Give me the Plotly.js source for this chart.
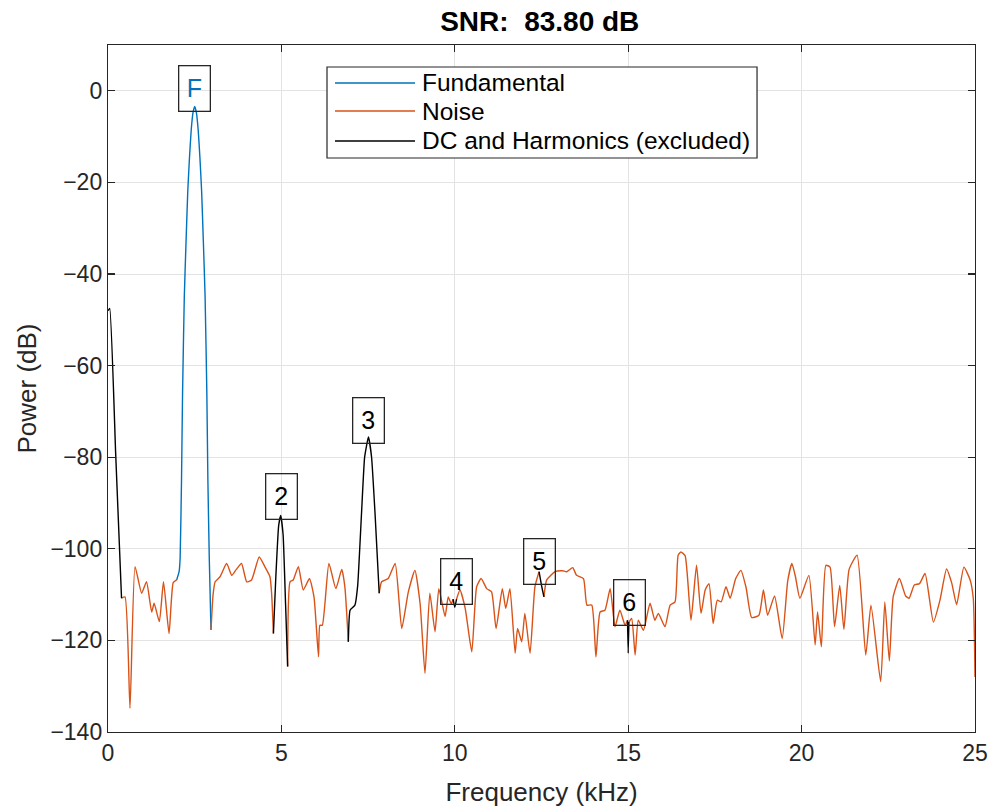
<!DOCTYPE html>
<html>
<head>
<meta charset="utf-8">
<script src="https://cdn.plot.ly/plotly-3.0.1.min.js"></script>
<style>html,body{margin:0;padding:0;background:#fff;}#chart{width:994px;height:808px;}</style>
</head>
<body>
<div id="chart"></div>
<script>
// ---- Data (frequency in kHz, power in dB) ----
const fundFreq = [1.98, 2.05, 2.08, 2.12, 2.15, 2.2, 2.25, 2.3, 2.35, 2.4, 2.45, 2.5, 2.55, 2.6, 2.65, 2.7, 2.75, 2.8, 2.85, 2.88, 2.92, 2.97];
const fundPow  = [-106.8, -105, -102, -85, -66, -45, -33, -22, -14.5, -8.5, -4.8, -3.4, -4.8, -8.5, -14.5, -22, -33, -45, -66, -85, -102, -117.7];

const noiseFreq = [
  0.39, 0.49, 0.634, 0.78, 0.97, 1.11, 1.26, 1.33, 1.48, 1.6, 1.76, 1.88, 1.98, null,
  2.97, 3.03, 3.09, 3.23, 3.42, 3.57, 3.7, 3.85, 4.0, 4.14, 4.36, 4.53, 4.67, 4.72, 4.77, null,
  5.18, 5.25, 5.34, 5.49, 5.63, 5.81, 5.94, 6.07, 6.11, 6.18, 6.37, 6.57, 6.74, 6.83, 6.93, null,
  7.82, 7.89, 8.08, 8.28, 8.47, 8.66, 8.85, 9.0, 9.14, 9.28, 9.43, 9.54, 9.72, 9.81, 9.9, 9.95, null,
  10.05, 10.15, 10.3, 10.49, 10.63, 10.76, 10.92, 11.06, 11.19, 11.37, 11.47, 11.59, 11.74, 11.81, 11.93, 12.02, 12.17, 12.31, 12.43, null,
  12.57, 12.65, 12.89, 13.1, 13.23, 13.4, 13.51, 13.71, 13.81, 13.95, 14.07, 14.19, 14.33, 14.48, 14.62, 14.76, 14.91, 14.98, null,
  15.02, 15.1, 15.2, 15.29, 15.44, 15.63, 15.77, 15.87, 16.06, 16.21, 16.35, 16.44, 16.52, 16.64, 16.81, 16.97, 17.1, 17.22, 17.33, 17.45,
  17.57, 17.68, 17.82, 17.94, 18.1, 18.25, 18.4, 18.56, 18.77, 18.9, 19.02, 19.22, 19.44, 19.6, 19.72, 19.82, 19.95, 20.21, 20.39, 20.46,
  20.57, 20.7, 20.82, 20.95, 21.1, 21.22, 21.37, 21.6, 21.85, 22.0, 22.28, 22.4, 22.53, 22.64, 22.82, 23.0, 23.1, 23.25, 23.4, 23.56,
  23.8, 23.99, 24.18, 24.33, 24.47, 24.68, 24.86, 24.95, 25.0
];
const noisePow = [
  -110.8, -110.5, -134.8, -103.9, -109.7, -107.2, -113.8, -111.9, -115.9, -107.2, -118.5, -107.4, -106.8, null,
  -117.7, -110, -107.2, -106.1, -103.2, -105.8, -104.5, -103.2, -107.2, -106.8, -101.8, -104, -106.1, -110, -118.5, null,
  -125.7, -107.2, -106.8, -103.9, -109, -106.5, -110.5, -123.6, -116.7, -116.7, -103.2, -108.7, -104.5, -108.3, -120.3, null,
  -109.7, -107.2, -106.5, -103.2, -117.4, -109.4, -104.7, -112, -127.2, -109.7, -118.1, -108.7, -114.8, -110.5, -112, -111, null,
  -111, -109, -113, -122.5, -108.3, -106.5, -108.7, -109.4, -117.4, -108.7, -113, -108.7, -122.8, -117.4, -120.3, -114.1, -122.8, -108.3, -105, null,
  -110.5, -106.8, -105, -104.8, -105, -104.1, -105.8, -106.5, -112.3, -112.3, -123.6, -113.8, -113.4, -108.7, -117, -113.4, -116.7, -115.6, null,
  -116, -115.2, -123.2, -115.6, -117.8, -111.9, -115.6, -114.1, -117, -112.3, -111.6, -101.4, -100.7, -101.5, -115.6, -103.6, -114.1, -109, -107.6, -116.3,
  -111.2, -111.6, -108.3, -110.8, -106.5, -104.7, -108.5, -115, -114.5, -109, -114.5, -110.3, -119.6, -107, -103.2, -106, -110.8, -105.8, -121, -113.8,
  -121.4, -103.6, -104, -117, -108, -117.6, -104.5, -101.4, -123.2, -112.3, -129, -111.6, -124.5, -110.5, -106.5, -110.3, -110.8, -107.9, -107.6, -105.4,
  -116, -111.2, -104.4, -107.5, -112.2, -104, -106.8, -110.8, -128
];

const harmFreq = [
  0, 0.05, 0.22, 0.39, null,
  4.77, 4.84, 4.92, 4.98, 5.05, 5.12, 5.18, null,
  6.93, 6.98, 7.12, 7.2, 7.31, 7.4, 7.51, 7.6, 7.7, 7.82, null,
  9.95, 10.0, 10.05, null,
  12.43, 12.5, 12.57, null,
  14.98, 15.0, 15.02
];
const harmPow = [
  -48, -47.5, -79, -110.8, null,
  -118.5, -106, -95, -92.7, -97, -112, -125.7, null,
  -120.3, -113.4, -112.3, -108, -92.3, -80, -75.6, -80, -92.3, -109.7, null,
  -111, -112.8, -111, null,
  -105, -108, -110.5, null,
  -115.6, -122.8, -116
];

const labelText = ['F', '2', '3', '4', '5', '6'];
const labelFreq = [2.5, 5.0, 7.5, 10.05, 12.45, 15.05];
const labelPow  = [-4.6, -93.8, -77.2, -112.3, -107.9, -116.9];

const seriesNames = ['Fundamental', 'Noise', 'DC and Harmonics (excluded)'];

const xTicks = [0, 5, 10, 15, 20, 25];
const yTicks = [-140, -120, -100, -80, -60, -40, -20, 0];

// ---- Styling ----
const FONT = 'Liberation Sans, Arial, Helvetica, sans-serif';
const TXT = '#262626';
const COLORS = ['#0072BD', '#D95319', '#000000'];

const traces = [
  {x: fundFreq, y: fundPow, type: 'scatter', mode: 'lines', name: seriesNames[0],
   line: {color: COLORS[0], width: 1.4, shape: 'spline', smoothing: 0.4}},
  {x: noiseFreq, y: noisePow, type: 'scatter', mode: 'lines', name: seriesNames[1],
   line: {color: COLORS[1], width: 1.4, shape: 'spline', smoothing: 0.5}, connectgaps: false},
  {x: harmFreq, y: harmPow, type: 'scatter', mode: 'lines', name: seriesNames[2],
   line: {color: COLORS[2], width: 1.4, shape: 'spline', smoothing: 0.4}, connectgaps: false}
];

const annotations = labelText.map((t, i) => ({
  x: labelFreq[i], y: labelPow[i], xref: 'x', yref: 'y',
  text: t, showarrow: false, xanchor: 'center', yanchor: 'bottom',
  font: {family: FONT, size: 25, color: t === 'F' ? COLORS[0] : '#000000'},
  bordercolor: TXT, borderwidth: 1.3, borderpad: 1,
  width: 28, height: 42, bgcolor: 'rgba(0,0,0,0)'
}));

// Legend drawn as a boxed key (MATLAB style) in paper coordinates
const shapes = [];
const legBox = {x0: 0.2526, x1: 0.7486, y0: 0.8355, y1: 0.9680};
const legRows = [0.9447, 0.9039, 0.8603];
shapes.push({type: 'rect', xref: 'paper', yref: 'paper', x0: legBox.x0, x1: legBox.x1, y0: legBox.y0, y1: legBox.y1,
  line: {color: TXT, width: 1.2}, fillcolor: '#ffffff', layer: 'above'});
seriesNames.forEach((n, i) => {
  shapes.push({type: 'line', xref: 'paper', yref: 'paper', x0: 0.2618, x1: 0.3541, y0: legRows[i], y1: legRows[i],
    line: {color: COLORS[i], width: 1.4}, layer: 'above'});
  annotations.push({xref: 'paper', yref: 'paper', x: 0.3595, y: legRows[i], xanchor: 'left', yanchor: 'middle',
    text: n, showarrow: false, font: {family: FONT, size: 24.5, color: '#000000'}});
});

const axisCommon = {
  showline: true, linecolor: TXT, linewidth: 1.2, mirror: 'allticks',
  ticks: 'inside', ticklen: 7, tickwidth: 1.2, tickcolor: TXT,
  showgrid: true, gridcolor: '#e3e3e3', gridwidth: 1,
  zeroline: false, tickfont: {family: FONT, size: 23, color: TXT},
  automargin: false, fixedrange: true
};

const layout = {
  width: 994, height: 808,
  margin: {l: 108, r: 19, t: 45, b: 76},
  paper_bgcolor: '#ffffff', plot_bgcolor: '#ffffff',
  font: {family: FONT, color: TXT},
  title: {text: '<b>SNR:\u00a0 83.80 dB</b>', font: {family: FONT, size: 28, color: '#000000'},
          x: 0.543, xanchor: 'center', y: 0.974, yanchor: 'middle', yref: 'container'},
  xaxis: Object.assign({}, axisCommon, {
    range: [0, 25], tickvals: xTicks, ticktext: xTicks.map(String),
    title: {text: 'Frequency (kHz)', font: {family: FONT, size: 26, color: TXT}, standoff: 18}
  }),
  yaxis: Object.assign({}, axisCommon, {
    range: [-140, 10], tickvals: yTicks,
    title: {text: 'Power (dB)', font: {family: FONT, size: 26, color: TXT}, standoff: 6}
  }),
  showlegend: false,
  shapes: shapes,
  annotations: annotations
};

Plotly.newPlot('chart', traces, layout, {displayModeBar: false, staticPlot: true});
</script>
</body>
</html>
